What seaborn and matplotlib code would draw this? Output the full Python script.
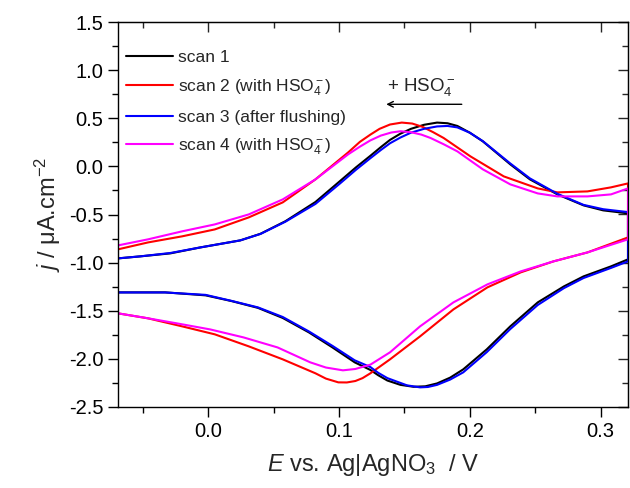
import numpy as np
import pandas as pd
import matplotlib
matplotlib.use("Agg")
import matplotlib.pyplot as plt
from matplotlib.ticker import MultipleLocator
import seaborn as sns

# ---- data ----
labels = ["scan 1", "scan 2 (with HSO$_4^-$)", "scan 3 (after flushing)", "scan 4 (with HSO$_4^-$)"]
colors = ["#000000", "#ff0000", "#0000ff", "#ff00ff"]

# scan 1 : forward (upper) branch then reverse (lower) branch
s1_up_E = [-0.069, -0.052, -0.029, -0.006, 0.0245, 0.040, 0.059, 0.082, 0.101, 0.113, 0.124, 0.132, 0.139, 0.147, 0.155, 0.165, 0.175, 0.183, 0.1905, 0.200, 0.210, 0.231, 0.246, 0.267, 0.287, 0.302, 0.321]
s1_up_j = [-0.956, -0.935, -0.904, -0.842, -0.769, -0.700, -0.570, -0.370, -0.150, -0.010, 0.110, 0.200, 0.275, 0.340, 0.390, 0.432, 0.455, 0.448, 0.420, 0.350, 0.260, 0.021, -0.135, -0.291, -0.405, -0.457, -0.488]
s1_dn_E = [0.321, 0.308, 0.287, 0.272, 0.252, 0.231, 0.213, 0.195, 0.185, 0.175, 0.166, 0.157, 0.147, 0.137, 0.130, 0.124, 0.112, 0.095, 0.077, 0.057, 0.038, 0.018, -0.002, -0.033, -0.069]
s1_dn_j = [-0.966, -1.039, -1.143, -1.247, -1.413, -1.662, -1.901, -2.109, -2.195, -2.255, -2.285, -2.290, -2.270, -2.225, -2.170, -2.115, -2.036, -1.881, -1.725, -1.575, -1.470, -1.400, -1.340, -1.309, -1.309]

# scan 2 (with HSO4-)
s2_up_E = [-0.069, -0.046, -0.020, 0.005, 0.031, 0.057, 0.082, 0.107, 0.116, 0.124, 0.131, 0.139, 0.148, 0.156, 0.164, 0.172, 0.180, 0.2005, 0.226, 0.252, 0.267, 0.290, 0.308, 0.321]
s2_up_j = [-0.862, -0.790, -0.727, -0.655, -0.530, -0.374, -0.135, 0.145, 0.255, 0.330, 0.390, 0.435, 0.455, 0.445, 0.410, 0.355, 0.295, 0.104, -0.104, -0.229, -0.270, -0.260, -0.218, -0.177]
s2_dn_E = [0.321, 0.290, 0.264, 0.239, 0.2135, 0.1875, 0.162, 0.139, 0.124, 0.118, 0.1125, 0.106, 0.0995, 0.090, 0.082, 0.057, 0.031, 0.005, -0.020, -0.046, -0.069]
s2_dn_j = [-0.738, -0.894, -0.987, -1.101, -1.257, -1.486, -1.766, -2.005, -2.150, -2.200, -2.230, -2.245, -2.244, -2.205, -2.150, -2.005, -1.870, -1.745, -1.662, -1.579, -1.527]

# scan 3 (after flushing)
s3_up_E = [-0.069, -0.052, -0.029, -0.006, 0.0245, 0.040, 0.059, 0.082, 0.101, 0.113, 0.124, 0.132, 0.139, 0.147, 0.155, 0.165, 0.175, 0.183, 0.1905, 0.200, 0.210, 0.231, 0.246, 0.267, 0.287, 0.302, 0.321]
s3_up_j = [-0.956, -0.935, -0.900, -0.842, -0.769, -0.702, -0.575, -0.390, -0.175, -0.035, 0.085, 0.170, 0.240, 0.300, 0.350, 0.390, 0.415, 0.420, 0.405, 0.350, 0.262, 0.030, -0.125, -0.285, -0.400, -0.445, -0.475]
s3_dn_E = [0.321, 0.308, 0.287, 0.272, 0.252, 0.231, 0.213, 0.195, 0.185, 0.175, 0.168, 0.162, 0.152, 0.137, 0.130, 0.124, 0.112, 0.095, 0.077, 0.057, 0.038, 0.018, -0.002, -0.033, -0.069]
s3_dn_j = [-0.987, -1.055, -1.160, -1.265, -1.440, -1.690, -1.930, -2.140, -2.215, -2.270, -2.292, -2.296, -2.275, -2.200, -2.145, -2.085, -2.015, -1.865, -1.715, -1.565, -1.465, -1.398, -1.335, -1.310, -1.310]

# scan 4 (with HSO4-)
s4_up_E = [-0.069, -0.046, -0.020, 0.005, 0.031, 0.057, 0.082, 0.107, 0.116, 0.124, 0.132, 0.140, 0.147, 0.155, 0.163, 0.170, 0.180, 0.1905, 0.210, 0.231, 0.252, 0.267, 0.290, 0.308, 0.321]
s4_up_j = [-0.821, -0.758, -0.675, -0.603, -0.499, -0.343, -0.135, 0.125, 0.205, 0.270, 0.320, 0.352, 0.365, 0.355, 0.330, 0.295, 0.230, 0.156, -0.031, -0.187, -0.281, -0.312, -0.312, -0.291, -0.229]
s4_dn_E = [0.321, 0.290, 0.264, 0.239, 0.2135, 0.1875, 0.162, 0.139, 0.124, 0.1125, 0.103, 0.090, 0.078, 0.053, 0.027, 0.0015, -0.024, -0.050, -0.069]
s4_dn_j = [-0.758, -0.894, -0.987, -1.091, -1.226, -1.413, -1.662, -1.932, -2.060, -2.105, -2.119, -2.090, -2.036, -1.881, -1.777, -1.694, -1.631, -1.569, -1.527]

xticks = [0.0, 0.1, 0.2, 0.3]
yticks = [-2.5, -2.0, -1.5, -1.0, -0.5, 0.0, 0.5, 1.0, 1.5]

# ---- build long table ----
frames = []
for lab, (ue, uj, de, dj) in zip(labels, [
        (s1_up_E, s1_up_j, s1_dn_E, s1_dn_j),
        (s2_up_E, s2_up_j, s2_dn_E, s2_dn_j),
        (s3_up_E, s3_up_j, s3_dn_E, s3_dn_j),
        (s4_up_E, s4_up_j, s4_dn_E, s4_dn_j)]):
    E = list(ue) + list(de)
    j = list(uj) + list(dj)
    frames.append(pd.DataFrame({"E": E, "j": j, "scan": lab}))
df = pd.concat(frames, ignore_index=True)

# ---- style ----
sns.set_style("ticks")
plt.rcParams["font.family"] = ["Liberation Sans", "DejaVu Sans"]
plt.rcParams["mathtext.fontset"] = "custom"
plt.rcParams["mathtext.rm"] = "Liberation Sans"
plt.rcParams["mathtext.it"] = "Liberation Sans:italic"
plt.rcParams["mathtext.bf"] = "Liberation Sans:bold"

fig = plt.figure(figsize=(6.3, 4.88), dpi=100)
fig.patch.set_facecolor("white")
ax = fig.add_axes([118 / 630, 1 - 407 / 488, (628 - 118) / 630, (407 - 22) / 488])

sns.lineplot(data=df, x="E", y="j", hue="scan", hue_order=labels,
             palette=colors, sort=False, estimator=None, lw=1.5, ax=ax, legend=False)
for ln in ax.lines:
    ln.set_solid_joinstyle("round")

ax.set_xlim(-0.069, 0.321)
ax.set_ylim(-2.5, 1.5)
ax.set_xticks(xticks)
ax.set_xticklabels([f"{t:.1f}" for t in xticks])
ax.set_yticks(yticks)
ax.set_yticklabels([f"{t:.1f}" for t in yticks])
ax.xaxis.set_minor_locator(MultipleLocator(0.05))
ax.yaxis.set_minor_locator(MultipleLocator(0.25))
ax.tick_params(which="both", direction="out", width=1, colors="black", labelsize=14.5)
ax.tick_params(which="major", length=7)
ax.tick_params(which="minor", length=4)
for s in ax.spines.values():
    s.set_visible(True)
    s.set_linewidth(1.0)
    s.set_color("black")

# inward ticks on top and right
secx = ax.secondary_xaxis("top")
secx.set_xticks(xticks)
secx.xaxis.set_minor_locator(MultipleLocator(0.05))
secx.tick_params(which="both", direction="in", labeltop=False, width=1)
secx.tick_params(which="major", length=7)
secx.tick_params(which="minor", length=4)
secy = ax.secondary_yaxis("right")
secy.set_yticks(yticks)
secy.yaxis.set_minor_locator(MultipleLocator(0.25))
secy.tick_params(which="both", direction="in", labelright=False, width=1)
secy.tick_params(which="major", length=7)
secy.tick_params(which="minor", length=4)

ax.set_xlabel(r"$\mathit{E}$ vs. Ag|AgNO$_3$  / V", fontsize=17, labelpad=8)
ax.set_ylabel(r"$\mathit{j}$ / μA.cm$^{-2}$", fontsize=17, labelpad=4)

leg = ax.legend(handles=ax.lines[:4], labels=labels, loc="upper left",
                bbox_to_anchor=(-0.008, 0.958), frameon=False, fontsize=12.5,
                handlelength=2.7, handletextpad=0.3, labelspacing=0.68,
                borderaxespad=0.2, borderpad=0.5)

ax.text(0.137, 0.78, "+ HSO$_4^-$", fontsize=13.5, ha="left", va="baseline")
ax.annotate("", xy=(0.134, 0.645), xytext=(0.196, 0.645),
            arrowprops=dict(arrowstyle="->", lw=1.0, color="black"))

fig.savefig("out.png", dpi=100, facecolor="white")
